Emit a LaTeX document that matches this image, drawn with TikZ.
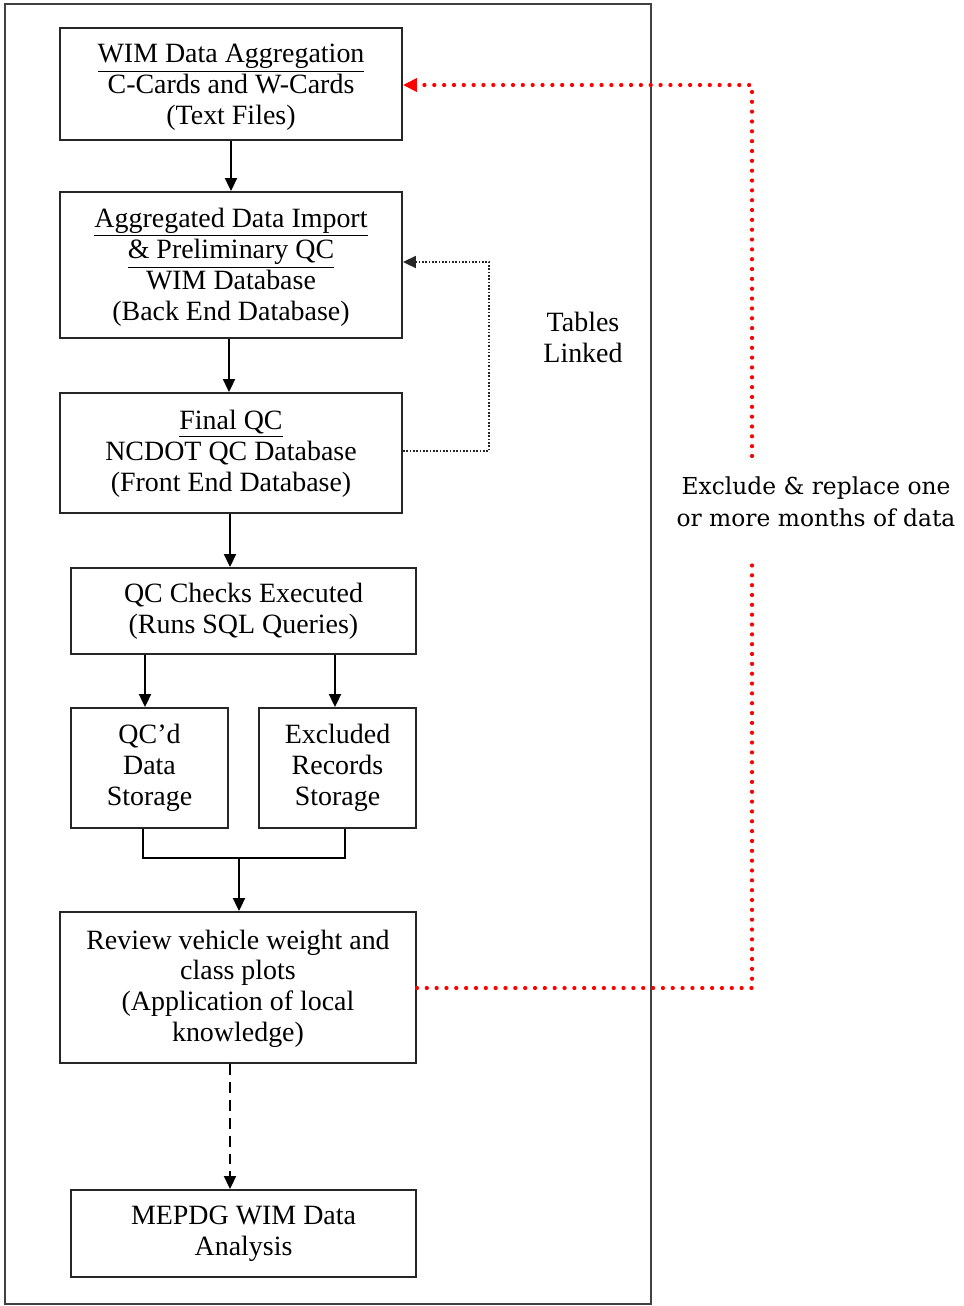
\documentclass[tikz,border=0pt]{standalone}
\usepackage{fontspec}
\setmainfont{Liberation Serif}
\newfontfamily\labfont{DejaVu Serif}
\usetikzlibrary{arrows.meta}
\newcommand\lowtext[2]{\raisebox{-#1}[\height][\depth]{\begin{tabular}{@{}c@{}}#2\end{tabular}}}
\begin{document}
\begin{tikzpicture}[x=0.02cm,y=-0.02cm,
  box/.style={draw=black!85,line width=1.1pt,align=center,inner sep=0pt,
    font=\fontsize{15.9}{17.6}\selectfont},
  arr/.style={draw=black,line width=1.1pt,-{Triangle[length=0.26cm,width=0.24cm]}},
  conn/.style={draw=black,line width=1.1pt},
  blkdot/.style={draw=black!85,line width=1pt,dash pattern=on 0.9pt off 1pt,
    -{Triangle[length=0.26cm,width=0.24cm]}},
  reddot/.style={draw=red,line width=2.4pt,dash pattern=on 0pt off 5.6pt,line cap=round},
  redtip/.style={-{Triangle[length=0.28cm,width=0.26cm,fill=red,color=red]}},
  dash arr/.style={draw=black,line width=1.1pt,dash pattern=on 6.2pt off 4pt,
    -{Triangle[length=0.26cm,width=0.24cm]}},
  frame/.style={draw=black!75,line width=1.2pt}]
\useasboundingbox (0,0) rectangle (964,1306);
\draw[frame] (5,4) rectangle (651,1304);

\node[box,minimum width=6.84cm,minimum height=2.24cm] (b1) at (231,84)
  {\lowtext{2pt}{\underline{WIM Data Aggregation}\\C-Cards and W-Cards\\(Text Files)}};
\node[box,minimum width=6.84cm,minimum height=2.92cm] (b2) at (231,265)
  {\lowtext{1.6pt}{\underline{Aggregated Data Import}\\\underline{\& Preliminary QC}\\WIM Database\\(Back End Database)}};
\node[box,minimum width=6.84cm,minimum height=2.40cm] (b3) at (231,453)
  {\lowtext{0.6pt}{\underline{Final QC}\\NCDOT QC Database\\(Front End Database)}};
\node[box,minimum width=6.90cm,minimum height=1.72cm] (b4) at (243.5,611)
  {QC Checks Executed\\(Runs SQL Queries)};
\node[box,minimum width=3.14cm,minimum height=2.40cm] (b5) at (149.5,768)
  {QC’d\\Data\\Storage};
\node[box,minimum width=3.14cm,minimum height=2.40cm] (b6) at (337.5,768)
  {Excluded\\Records\\Storage};
\node[box,minimum width=7.12cm,minimum height=3.02cm] (b7) at (238,987.5)
  {\lowtext{1pt}{Review vehicle weight and\\class plots\\(Application of local\\knowledge)}};
\node[box,minimum width=6.90cm,minimum height=1.74cm] (b8) at (243.5,1233.5)
  {MEPDG WIM Data\\Analysis};

\node[align=center,font=\fontsize{15.9}{17.6}\selectfont] (tl) at (583,337) {Tables\\Linked};
\node[align=center,font=\labfont\fontsize{13.3}{18.2}\selectfont] (lab) at (816,502)
  {Exclude \& replace one\\or more months of data};

% main flow
\draw[arr] (b1.south) -- (b2.north);
\draw[arr] ([xshift=-0.04cm]b2.south) -- ([xshift=-0.04cm]b3.north);
\draw[arr] ([xshift=-0.02cm]b3.south) -- ([xshift=-0.02cm]b3.south |- b4.north);
\draw[arr] ([xshift=-0.09cm]b5.north |- b4.south) -- ([xshift=-0.09cm]b5.north);
\draw[arr] ([xshift=-0.05cm]b6.north |- b4.south) -- ([xshift=-0.05cm]b6.north);
\coordinate (ml) at (143,858);
\coordinate (mr) at (345,858);
\coordinate (mm) at (239,858);
\draw[conn] (b5.south -| ml) -- (ml) -- (mr) -- (b6.south -| mr);
\draw[arr] (mm) -- (mm |- b7.north);
\draw[dash arr] ([xshift=-0.16cm]b7.south) -- ([xshift=-0.16cm]b7.south |- b8.north);

% tables linked
\coordinate (lt) at (489,262);
\coordinate (lb) at (489,451);
\draw[blkdot] (b3.east |- lb) -- (lb) -- (lt) -- (b2.east |- lt);

% red feedback loop
\coordinate (rt) at (752,85);
\coordinate (rb) at (752,988);
\coordinate (gt) at (752,456);
\coordinate (gb) at (752,564);
\draw[reddot] (b7.east |- rb) -- (rb) -- (gb);
\draw[reddot,redtip] (gt) -- (rt) -- (b1.east |- rt);
\end{tikzpicture}
\end{document}
